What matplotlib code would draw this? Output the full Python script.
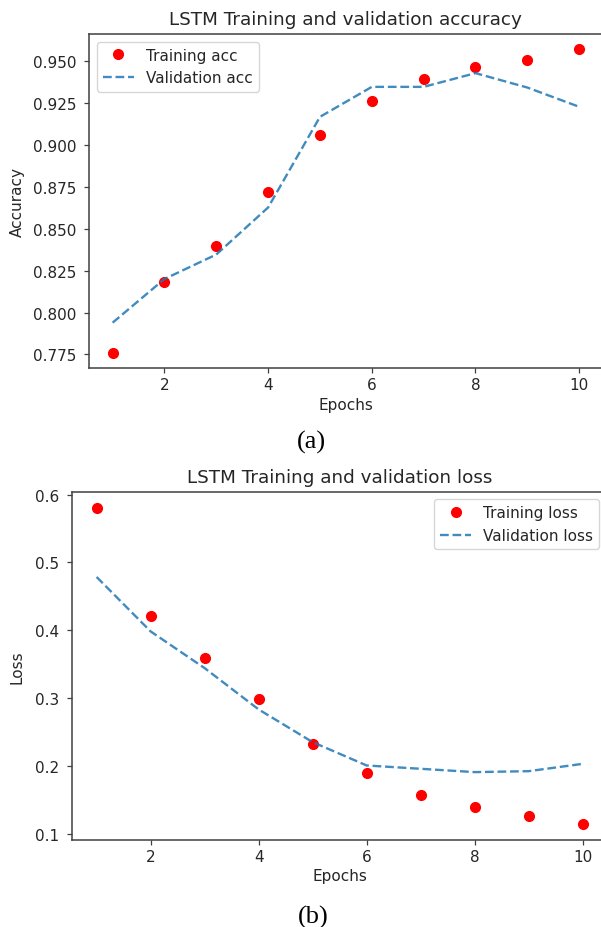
import matplotlib
matplotlib.use("Agg")
import matplotlib.pyplot as plt

epochs = [1, 2, 3, 4, 5, 6, 7, 8, 9, 10]
train_acc = [0.776, 0.8185, 0.8397, 0.8718, 0.9059, 0.9261, 0.9392, 0.9466, 0.951, 0.9573]
val_acc = [0.794, 0.8201, 0.8347, 0.8628, 0.9169, 0.9348, 0.9348, 0.943, 0.9344, 0.9229]
train_loss = [0.581, 0.421, 0.3596, 0.2986, 0.2327, 0.190, 0.157, 0.1403, 0.1265, 0.1147]
val_loss = [0.4786, 0.3984, 0.3443, 0.2834, 0.2352, 0.2008, 0.1959, 0.191, 0.1924, 0.2032]

plt.rcParams['font.family'] = ['DejaVu Sans']
text_c = '#262626'
spine_c = '#404040'
fs = 11

fig = plt.figure(figsize=(6.01, 9.28), dpi=100)

def style(ax):
    for s in ax.spines.values():
        s.set_color(spine_c)
        s.set_linewidth(1.1)
    ax.tick_params(axis='both', labelsize=fs, colors=spine_c, labelcolor=text_c,
                   length=3.3, width=0.9)
    ax.tick_params(axis='y', pad=6)
    ax.tick_params(axis='x', pad=3.5)

ax1 = fig.add_axes([89.3 / 601, (928 - 369) / 928, (602.5 - 89.3) / 601, (369 - 35) / 928])
ax1.plot(epochs, train_acc, 'o', color='red', markersize=7, label='Training acc')
ax1.plot(epochs, val_acc, '--', color='#1f77b4', alpha=0.85, linewidth=1.7, label='Validation acc')
ax1.set_title('LSTM Training and validation accuracy', fontsize=13.2, color=text_c, pad=7)
ax1.set_xlabel('Epochs', fontsize=fs, color=text_c, labelpad=3)
ax1.set_ylabel('Accuracy', fontsize=fs, color=text_c, labelpad=6)
ax1.set_yticks([0.775, 0.800, 0.825, 0.850, 0.875, 0.900, 0.925, 0.950])
ax1.legend(loc='upper left', fontsize=fs, labelcolor=text_c)
style(ax1)

ax2 = fig.add_axes([72.3 / 601, (928 - 840.7) / 928, (607 - 72.3) / 601, (840.7 - 492.7) / 928])
ax2.plot(epochs, train_loss, 'o', color='red', markersize=7, label='Training loss')
ax2.plot(epochs, val_loss, '--', color='#1f77b4', alpha=0.85, linewidth=1.7, label='Validation loss')
ax2.set_title('LSTM Training and validation loss', fontsize=13.2, color=text_c, pad=7)
ax2.set_xlabel('Epochs', fontsize=fs, color=text_c, labelpad=3)
ax2.set_ylabel('Loss', fontsize=fs, color=text_c, labelpad=8)
ax2.set_yticks([0.1, 0.2, 0.3, 0.4, 0.5, 0.6])
ax2.legend(loc='upper right', fontsize=fs, labelcolor=text_c)
style(ax2)

fig.text(311 / 601, 1 - 442 / 928, '(a)', family='Liberation Serif', fontsize=19,
         ha='center', va='center', color='black')
fig.text(313 / 601, 1 - 917 / 928, '(b)', family='Liberation Serif', fontsize=19,
         ha='center', va='center', color='black')

fig.savefig('out.png', dpi=100)
